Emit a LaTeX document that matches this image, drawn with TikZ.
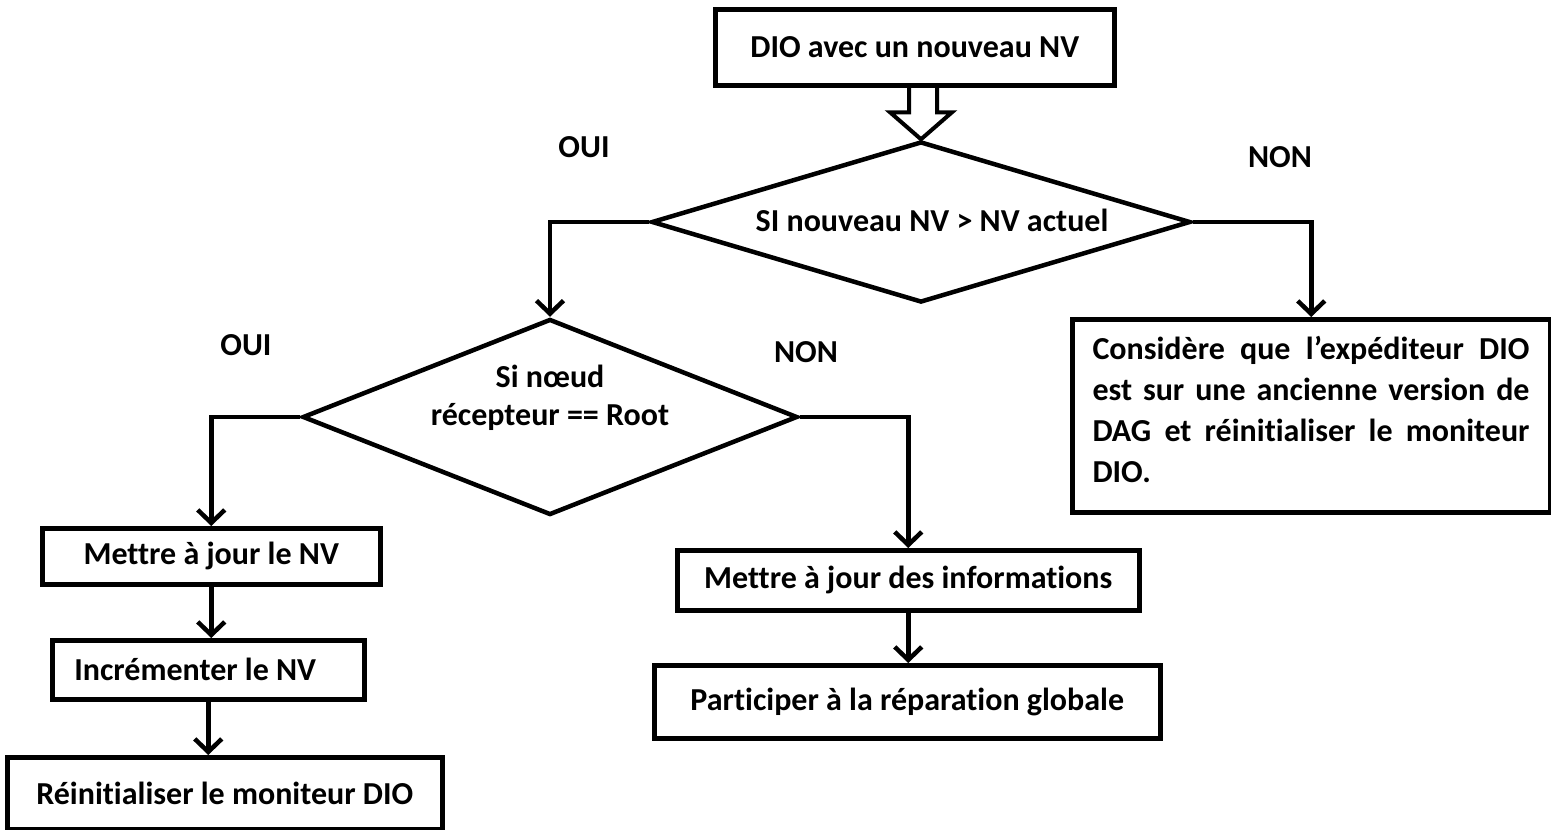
\documentclass[tikz,border=0pt]{standalone}
\usepackage{fontspec}
\setmainfont{Carlito}[Ligatures=NoCommon]
\usetikzlibrary{shapes.geometric,arrows.meta}
\begin{document}
\begin{tikzpicture}[x=1pt,y=-1pt,
  every node/.style={font=\fontsize{32}{41}\selectfont\bfseries},
  box/.style={draw,line width=4.5pt,rectangle,inner sep=0pt,anchor=north west},
  dec/.style={draw,line width=4.5pt,diamond,inner sep=0pt},
  conn/.style={line width=4.5pt,-{Straight Barb[length=13pt,width=27pt]}},
  lbl/.style={inner sep=0pt}]
\useasboundingbox (0,0) rectangle (1551,830);

% nodes
\node[box,minimum width=399pt,minimum height=76pt] (top) at (713,7) {DIO avec un nouveau NV};
\node[dec,aspect=3.35,minimum width=539pt,minimum height=161pt] (d1) at (921,222) {};
\node[lbl] (d1t) at (932,220) {SI nouveau NV > NV actuel};
\node[dec,aspect=2.53,minimum width=495pt,minimum height=196pt] (d2) at (550,417) {};
\node[lbl,align=center,font=\fontsize{32}{38}\selectfont\bfseries] (d2t) at (550,398) {Si nœud\\récepteur == Root};
\node[box,minimum width=478pt,minimum height=193pt] (rb) at (1070,317) {};
\node[lbl,text width=437pt,align=justify] (rbt) at (1311,409)
  {Considère que l’expéditeur DIO\linebreak
   est sur une ancienne version de\linebreak
   DAG et réinitialiser le moniteur\linebreak
   DIO.};
\node[box,minimum width=338pt,minimum height=56pt] (b1) at (40,526) {Mettre à jour le NV};
\node[box,minimum width=312pt,minimum height=59pt] (b2) at (50,638) {Incrémenter le NV\rule{26pt}{0pt}};
\node[box,minimum width=435pt,minimum height=72pt] (b3) at (5,755) {Réinitialiser le moniteur DIO};
\node[box,minimum width=462pt,minimum height=60pt] (b4) at (675,548) {Mettre à jour des informations};
\node[box,minimum width=506pt,minimum height=73pt] (b5) at (652,663) {Participer à la réparation globale};

\node[lbl] (oui1) at (584,147) {OUI};
\node[lbl] (non1) at (1280,157) {NON};
\node[lbl] (oui2) at (246,345) {OUI};
\node[lbl] (non2) at (806,352) {NON};

% hollow arrow from the top box to the first decision
\draw[line width=4pt,line join=miter]
  (d1.north) ++(-12,-54) -- ++(0,27) -- ++(-19,0) -- (d1.north)
  -- ++(31,-27) -- ++(-15,0) -- ++(0,-27);

% connectors
\draw[conn] (d1.west) -| (d2.north);
\draw[conn] (d1.east) -| (rb.north);
\draw[conn] (d2.west) -| (b1.north);
\draw[conn] (d2.east) -| (b4.north);
\draw[conn] (b1.south) -- (b1.south |- b2.north);
\draw[conn] (b2.south) -- (b2.south |- b3.north);
\draw[conn] (b4.south) -- (b4.south |- b5.north);
\end{tikzpicture}
\end{document}
